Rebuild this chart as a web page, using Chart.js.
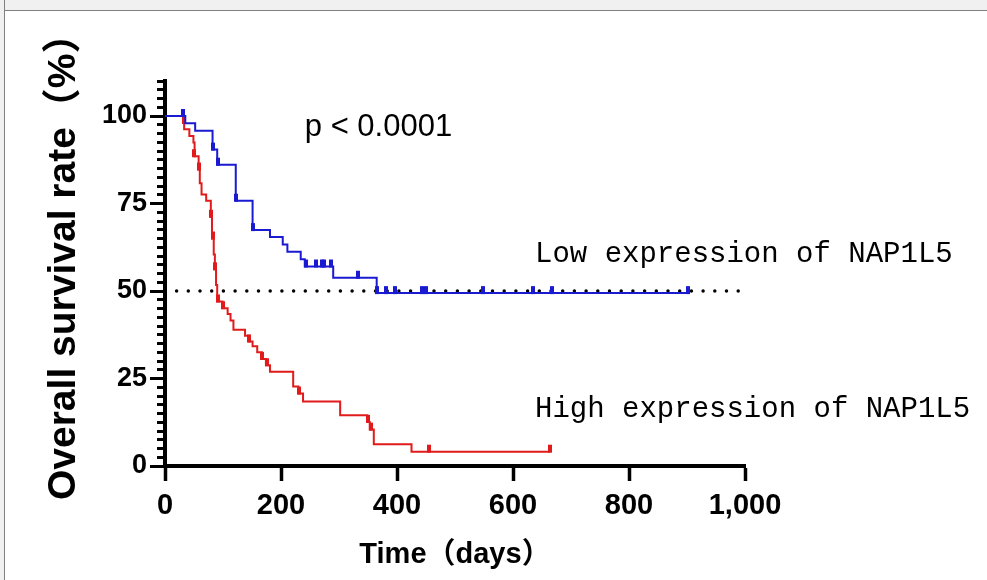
<!DOCTYPE html>
<html>
<head>
<meta charset="utf-8">
<script src="https://cdn.jsdelivr.net/npm/chart.js@4.4.0/dist/chart.umd.min.js"></script>
<style>
  html, body { margin: 0; overflow: hidden; background: #fff; width: 987px; height: 580px; }
  .band-top { position: absolute; left: 0; top: 0; width: 987px; height: 10px; background: #f0f0f0; border-bottom: 1px solid #808080; }
  .band-left { position: absolute; left: 0; top: 0; width: 4px; height: 580px; background: #f0f0f0; border-right: 1px solid #808080; }
  .wrap { position: absolute; left: 0; top: 0; width: 987px; height: 580px; }
</style>
</head>
<body>
<div class="band-top"></div>
<div class="band-left"></div>
<div class="wrap"><canvas id="km"></canvas></div>
<script>
// low expression group (blue)
const lowDays = [0, 35, 52, 82, 90, 122, 151, 181, 203, 211, 234, 241, 290, 365, 902];
const lowRate = [100, 97.9, 95.8, 90.4, 86.1, 75.8, 67.4, 65.4, 63.3, 61.2, 59.1, 57.0, 53.8, 49.4, 49.4];
const lowCensorDays = [31, 83, 91, 123, 152, 243, 260, 270, 274, 286, 333, 366, 381, 396, 443, 450, 549, 635, 667, 902];
const lowCensorRate = [100, 90.4, 86.1, 75.8, 67.4, 57.0, 57.0, 57.0, 57.0, 57.0, 53.8, 49.4, 49.4, 49.4, 49.4, 49.4, 49.4, 49.4, 49.4, 49.4];

// high expression group (red)
const highDays = [0, 31, 33, 42, 49, 51, 58, 60, 63, 71, 79, 81, 84, 86, 88, 90, 99, 108, 113, 118, 138, 144, 151, 159, 167, 174, 181, 221, 230, 238, 302, 349, 353, 360, 425, 664];
const highRate = [100, 98.0, 96.2, 94.3, 92.4, 88.5, 84.7, 80.8, 77.6, 75.8, 71.2, 65.0, 60.4, 56.2, 51.7, 47.0, 45.1, 43.4, 41.6, 38.9, 37.2, 35.6, 34.2, 32.5, 30.6, 28.8, 26.9, 22.7, 20.7, 18.4, 14.5, 12.6, 10.4, 6.2, 4.1, 4.1];
const highCensorDays = [32, 50, 59, 80, 82, 87, 91, 100, 145, 168, 175, 231, 350, 355, 455, 664];
const highCensorRate = [98.0, 88.5, 84.7, 71.2, 65.0, 56.2, 47.0, 45.1, 35.6, 30.6, 28.8, 20.7, 12.6, 10.4, 4.1, 4.1];

// median reference line
const medianDays = [20, 990];
const medianRate = [50, 50];

const yLabels = [0, 25, 50, 75, 100];
const pText = 'p < 0.0001';
const lowText = 'Low expression of NAP1L5';
const highText = 'High expression of NAP1L5';

const blue = '#1a1ad0';
const red = '#e11b1b';

Chart.defaults.font.family = '"Liberation Sans", Arial, "Noto Sans CJK SC", sans-serif';

function toPoints(xs, ys) {
    return xs.map((x, i) => ({ x: x, y: ys[i] }));
}

// small upward tick used for censored cases
function censorMark(color) {
    const c = document.createElement('canvas');
    c.width = 4;
    c.height = 16;
    const g = c.getContext('2d');
    g.fillStyle = color;
    g.fillRect(0, 1, 4, 8);
    return c;
}

const notes = {
    id: 'notes',
    afterDraw(chart) {
        const { ctx, scales: { x, y } } = chart;
        ctx.save();
        ctx.fillStyle = '#000';
        ctx.textBaseline = 'middle';
        ctx.font = '31px "Liberation Sans", Arial, sans-serif';
        ctx.fillText(pText, x.getPixelForValue(241), y.getPixelForValue(96.6));
        ctx.font = '29px "Liberation Mono", monospace';
        ctx.fillText(lowText, x.getPixelForValue(638), y.getPixelForValue(60.6));
        ctx.fillText(highText, x.getPixelForValue(638), y.getPixelForValue(16.3));
        ctx.restore();
    }
};

new Chart(document.getElementById('km'), {
    type: 'scatter',
    data: {
        datasets: [{
            label: 'Low',
            data: toPoints(lowDays, lowRate),
            showLine: true,
            stepped: 'before',
            borderColor: blue,
            borderWidth: 2,
            pointRadius: 0
        }, {
            label: 'Low censored',
            data: toPoints(lowCensorDays, lowCensorRate),
            showLine: false,
            pointStyle: censorMark(blue),
            pointRadius: 4
        }, {
            label: 'High',
            data: toPoints(highDays, highRate),
            showLine: true,
            stepped: 'before',
            borderColor: red,
            borderWidth: 2,
            pointRadius: 0
        }, {
            label: 'High censored',
            data: toPoints(highCensorDays, highCensorRate),
            showLine: false,
            pointStyle: censorMark(red),
            pointRadius: 4
        }, {
            label: 'Median',
            data: toPoints(medianDays, medianRate),
            showLine: true,
            borderColor: '#000',
            borderWidth: 3.5,
            borderDash: [0, 11.7],
            borderCapStyle: 'round',
            pointRadius: 0
        }]
    },
    options: {
        responsive: true,
        maintainAspectRatio: false,
        animation: false,
        events: [],
        layout: { padding: { top: 81, right: 242, left: 0, bottom: 0 } },
        plugins: {
            legend: { display: false },
            tooltip: { enabled: false }
        },
        scales: {
            x: {
                type: 'linear',
                min: 0,
                max: 1000,
                border: { color: '#000', width: 4 },
                grid: { drawOnChartArea: false, tickLength: 15, tickWidth: 3.5, tickColor: '#000' },
                ticks: {
                    stepSize: 200,
                    autoSkip: false,
                    maxRotation: 0,
                    color: '#000',
                    padding: 8,
                    font: { size: 29, weight: 'bold' }
                },
                title: {
                    display: true,
                    text: 'Time（days）',
                    color: '#000',
                    font: { size: 29, weight: 'bold' },
                    padding: { top: 0, bottom: 8 }
                },
                afterFit: (s) => { s.height = 114; }
            },
            y: {
                min: 0,
                max: 110,
                border: { color: '#000', width: 4 },
                grid: {
                    drawOnChartArea: false,
                    tickLength: 15,
                    tickWidth: 3,
                    tickColor: '#000',
                    tickBorderDash: (c) => (c.tick && yLabels.indexOf(c.tick.value) < 0) ? [0, 7, 8, 30] : []
                },
                ticks: {
                    stepSize: 2.5,
                    autoSkip: false,
                    color: '#000',
                    padding: 3,
                    font: { size: 27, weight: 'bold' },
                    callback: (v) => yLabels.indexOf(v) >= 0 ? v : ''
                },
                title: {
                    display: true,
                    text: '   Overall survival rate（%）',
                    color: '#000',
                    font: { size: 39, weight: 'bold' },
                    padding: { top: 41, bottom: 0 }
                },
                afterFit: (s) => { s.width = 165; }
            }
        }
    },
    plugins: [notes]
});
</script>
</body>
</html>
